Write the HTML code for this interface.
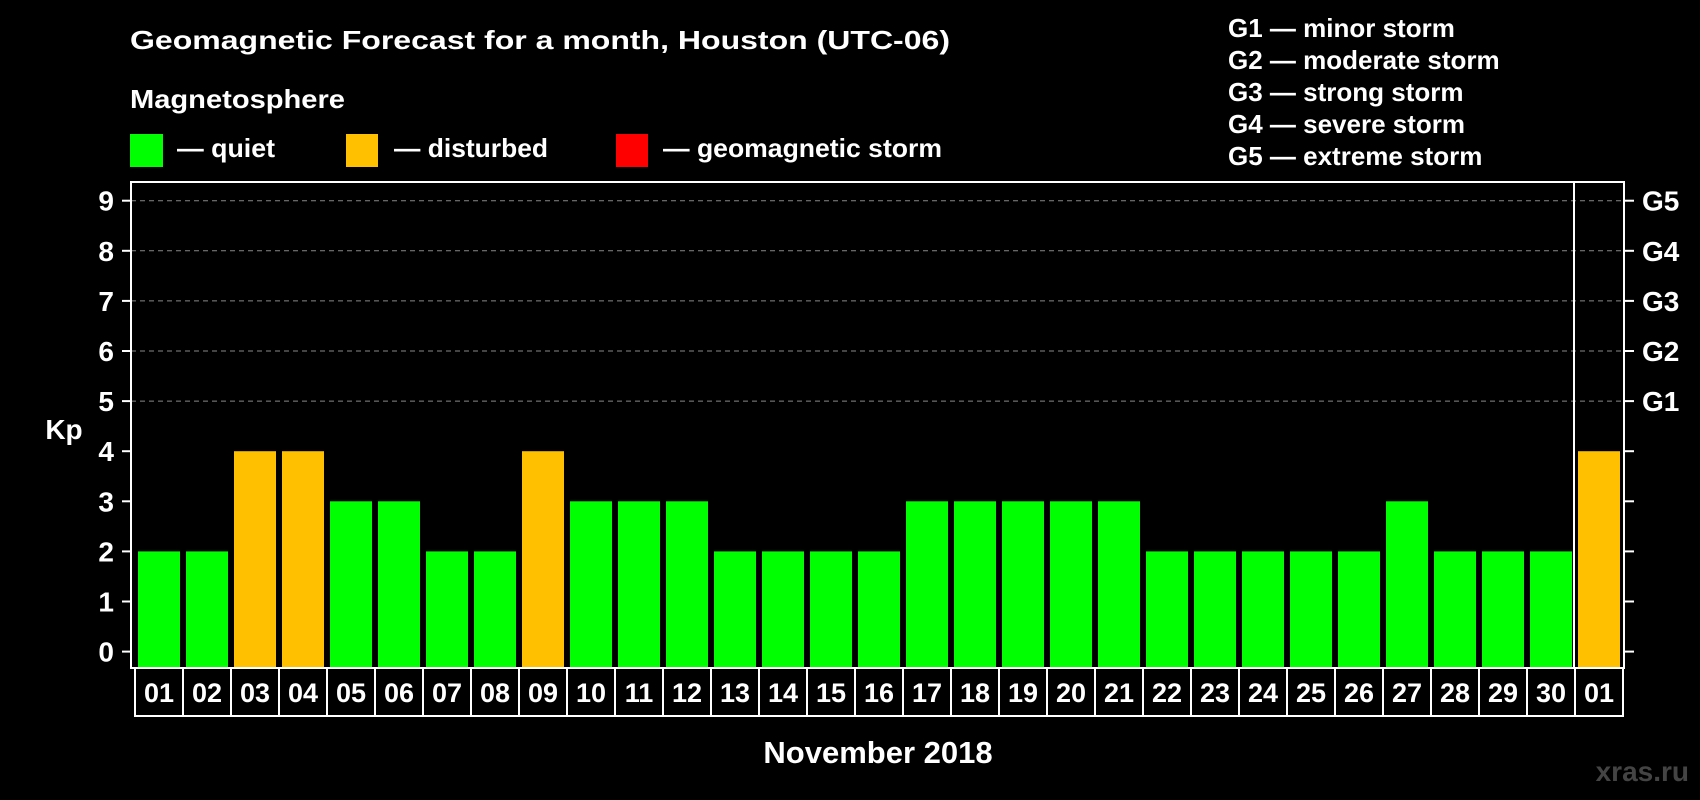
<!DOCTYPE html>
<html><head><meta charset="utf-8"><style>
html,body{margin:0;padding:0;background:#000;}
svg{display:block;font-family:"Liberation Sans",sans-serif;font-weight:bold;}
</style></head><body>
<svg id="chart" width="1700" height="800" viewBox="0 0 1700 800">
<text x="130" y="49" fill="#fff" font-size="26" textLength="820" lengthAdjust="spacingAndGlyphs">Geomagnetic Forecast for a month, Houston (UTC-06)</text>
<text x="130" y="108" fill="#fff" font-size="26" textLength="215" lengthAdjust="spacingAndGlyphs">Magnetosphere</text>
<g><rect x="130" y="134" width="33" height="33" fill="#00ff00"/><text x="177" y="157" fill="#fff" font-size="26" textLength="98" lengthAdjust="spacingAndGlyphs">— quiet</text></g>
<g><rect x="346" y="134" width="32" height="33" fill="#ffc000"/><text x="394" y="157" fill="#fff" font-size="26" textLength="154" lengthAdjust="spacingAndGlyphs">— disturbed</text></g>
<g><rect x="616" y="134" width="32" height="33" fill="#ff0000"/><text x="663" y="157" fill="#fff" font-size="26" textLength="279" lengthAdjust="spacingAndGlyphs">— geomagnetic storm</text></g>
<g fill="#fff" font-size="26">
<text x="1228" y="37">G1 — minor storm</text>
<text x="1228" y="69">G2 — moderate storm</text>
<text x="1228" y="101">G3 — strong storm</text>
<text x="1228" y="133">G4 — severe storm</text>
<text x="1228" y="165">G5 — extreme storm</text>
</g>
<g id="grid"></g><g id="bars"></g><g id="axes"></g>
<text x="64" y="439" fill="#fff" font-size="28" text-anchor="middle">Kp</text>
<text x="878" y="763" fill="#fff" font-size="31" text-anchor="middle">November 2018</text>
<text x="1689" y="781" fill="#444" font-size="28" text-anchor="end">xras.ru</text>
</svg>
<script>
const days=["01","02","03","04","05","06","07","08","09","10","11","12","13","14","15","16","17","18","19","20","21","22","23","24","25","26","27","28","29","30","01"];
const kpValues=[2,2,4,4,3,3,2,2,4,3,3,3,2,2,2,2,3,3,3,3,3,2,2,2,2,2,3,2,2,2,4];
const yTicks=[0,1,2,3,4,5,6,7,8,9];
const gLabels=["G1","G2","G3","G4","G5"];
const NS="http://www.w3.org/2000/svg";
const X0=131,X1=1624,Y0=182,Y1=668,pitch=48;
const y=v=>651.6-v*50.1;
const xs=i=>134+i*pitch;
function mk(t,a,p){const e=document.createElementNS(NS,t);for(const k in a)e.setAttribute(k,a[k]);p.appendChild(e);return e;}
const grid=document.getElementById('grid'),bars=document.getElementById('bars'),axes=document.getElementById('axes');
yTicks.forEach(v=>{
  if(v>=5){const l=mk('line',{x1:X0,x2:X1,y1:y(v),y2:y(v),stroke:'#888','stroke-dasharray':'5,4','stroke-width':1},grid);
  
  }
  mk('line',{x1:122,x2:X0,y1:y(v),y2:y(v),stroke:'#fff','stroke-width':2},axes);
  mk('line',{x1:X1,x2:1634,y1:y(v),y2:y(v),stroke:'#fff','stroke-width':2},axes);
  const t=mk('text',{x:114,y:y(v)+10,fill:'#fff','font-size':28,'text-anchor':'end'},axes);t.textContent=v;
  
  
});
gLabels.forEach((g,i)=>{const t=mk('text',{x:1642,y:y(5+i)+10,fill:'#fff','font-size':28},axes);t.textContent=g;
  
  });
kpValues.forEach((v,i)=>{
  const r=mk('rect',{x:xs(i)+4,y:y(v),width:42,height:Y1-1-y(v),fill:v>=5?'#ff0000':(v>=4?'#ffc000':'#00ff00')},bars);
  
  
  mk('rect',{x:135+i*pitch,y:Y1,width:pitch,height:48,fill:'none',stroke:'#fff','stroke-width':2},axes);
  const t=mk('text',{x:135+i*pitch+pitch/2,y:702,fill:'#fff','font-size':27,'text-anchor':'middle'},axes);t.textContent=days[i];
  
  
});
const f=mk('rect',{x:X0,y:Y0,width:X1-X0,height:Y1-Y0,fill:'none',stroke:'#fff','stroke-width':2},axes);


const d=mk('line',{x1:1574,x2:1574,y1:Y0,y2:Y1,stroke:'#fff','stroke-width':2},axes);


</script>
</body></html>
